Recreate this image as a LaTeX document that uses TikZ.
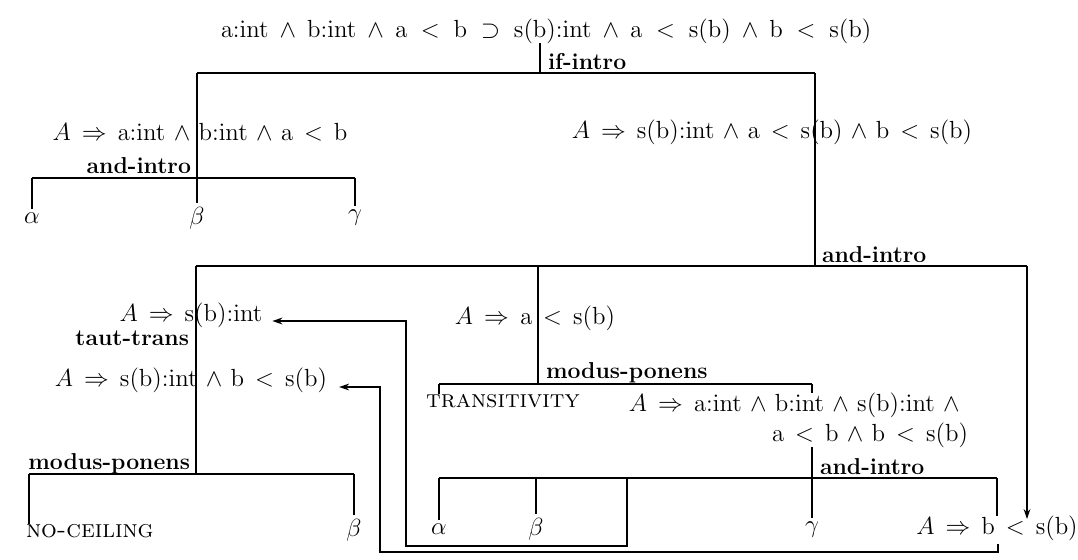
\documentclass[tikz,border=0pt]{standalone}
\usepackage{fix-cm}
\usetikzlibrary{arrows.meta}
\newcommand\va{\mathrm{a}}
\newcommand\vb{\mathrm{b}}
\newcommand\sofb{\mathrm{s(b)}}
\newcommand\tyy[2]{\mathrm{#1}{:}\mathrm{#2}}
\newcommand\fmx[1]{$\thickmuskip=8mu\medmuskip=6mu #1$}
\newcommand\fmw[1]{$\thickmuskip=10mu\medmuskip=8mu #1$}
\begin{document}
\begin{tikzpicture}[x=0.5pt,y=-0.5pt,
 every node/.style={inner sep=0pt,outer sep=0pt},
 txt/.style={font=\fontsize{12.4}{14.8}\selectfont},
 rl/.style={font=\fontsize{11.5}{13}\selectfont\bfseries},
 scx/.style={font=\fontsize{12.4}{14}\selectfont\scshape},
 leaf/.style={font=\fontsize{12.4}{14}\selectfont, inner sep=2pt},
 ln/.style={line width=0.6pt},
 barl/.style={line width=0.9pt},
 arr/.style={line width=0.7pt,-{Stealth[length=5pt,width=3.4pt]}},
]
\useasboundingbox (0,0) rectangle (1078,559);

% ---- nodes
\node[txt] (R) at (546,31) {\fmw{\tyy{a}{int}\wedge\tyy{b}{int}\wedge\va<\vb\supset\tyy{s(b)}{int}\wedge\va<\sofb\wedge\vb<\sofb}};
\node[txt] (N1) at (200,132) {\fmx{A\Rightarrow\tyy{a}{int}\wedge\tyy{b}{int}\wedge\va<\vb}};
\node[txt] (N2) at (772,132) {\fmx{A\Rightarrow\tyy{s(b)}{int}\wedge\va<\sofb\wedge\vb<\sofb}};
\node[leaf] (a1) at (32,218) {$\alpha$};
\node[leaf] (b1) at (197,218) {$\beta$};
\node[leaf] (g1) at (355,218) {$\gamma$};
\node[txt] (N3) at (191,315) {\fmx{A\Rightarrow\tyy{s(b)}{int}}};
\node[txt] (N4) at (191,380) {\fmx{A\Rightarrow\tyy{s(b)}{int}\wedge\vb<\sofb}};
\node[txt] (N5) at (535,318) {\fmx{A\Rightarrow\va<\sofb}};
\node[scx] (TR) at (503,401) {transitivity};
\node[txt, align=right, anchor=north east] (N6) at (968,393)
  {\fmx{A\Rightarrow\tyy{a}{int}\wedge\tyy{b}{int}\wedge\tyy{s(b)}{int}\wedge{}}\\
   \fmx{\va<\vb\wedge\vb<\sofb}};
\node[scx, anchor=west] (NC) at (26,531) {no-ceiling};
\node[leaf] (b2) at (354,530) {$\beta$};
\node[leaf] (a2) at (439,529) {$\alpha$};
\node[leaf] (b3) at (536,529) {$\beta$};
\node[leaf] (g3) at (812,530) {$\gamma$};
\node[txt] (N7) at (997,528) {\fmx{A\Rightarrow\vb<\sofb}};

% ---- rule labels
\node[rl, anchor=base west] (Lif) at (548,69) {if-intro};
\node[rl, anchor=base east] (La1) at (191,173) {and-intro};
\node[rl, anchor=base west] (La2) at (822,262) {and-intro};
\node[rl, anchor=base east] (Ltt) at (189,345) {taut-trans};
\node[rl, anchor=base west] (Lmp1) at (546,378) {modus-ponens};
\node[rl, anchor=base east] (Lmp2) at (190,469) {modus-ponens};
\node[rl, anchor=base west] (La3) at (820,474) {and-intro};

% ---- junction coordinates
\coordinate (J0) at (540,73);
\coordinate (J0l) at (197,73);
\coordinate (J0r) at (815,73);
\coordinate (J1) at (197,178);
\coordinate (J1l) at (32,178);
\coordinate (J1r) at (355,178);
\coordinate (J2) at (815,266);
\coordinate (J2l) at (196,266);
\coordinate (J2m) at (538,266);
\coordinate (J2r) at (1027,266);
\coordinate (J3) at (196,474);
\coordinate (J3l) at (29,474);
\coordinate (J3r) at (354,474);
\coordinate (J4) at (538,384);
\coordinate (J4l) at (439,384);
\coordinate (J4r) at (812,384);
\coordinate (J5) at (812,478);
\coordinate (J5l) at (439,478);
\coordinate (J5b) at (536,478);
\coordinate (J5c) at (627,478);
\coordinate (J5r) at (997,478);
\coordinate (K1) at (627,546);
\coordinate (K2) at (406,546);
\coordinate (K3) at (998,552);
\coordinate (K4) at (380,552);
\coordinate (tipR) at (1027,519);

% ---- connectors
\draw[ln] (R.south -| J0) -- (J0);
\draw[barl] (J0l) -- (J0r);
\draw[ln] (J0l) -- (J1);
\draw[ln] (J0r) -- (J2);
\draw[barl] (J1l) -- (J1r);
\draw[ln] (J1l) -- (J1l |- a1.north);
\draw[ln] (J1) -- (J1 |- b1.north);
\draw[ln] (J1r) -- (J1r |- g1.north);
\draw[barl] (J2l) -- (J2r);
\draw[ln] (J2l) -- (J3);
\draw[ln] (J2m) -- (J4);
\draw[arr] (J2r) -- (tipR);
\draw[barl] (J4l) -- (J4r);
\draw[ln] (J4l) -- (J4l |- TR.north);
\draw[ln] (J4r) -- (J4r |- N6.north);
\draw[ln] (N6.south -| J5) -- (J5);
\draw[barl] (J3l) -- (J3r);
\draw[ln] (J3l) -- (J3l |- NC.north);
\draw[ln] (J3r) -- (J3r |- b2.north);
\draw[barl] (J5l) -- (J5r);
\draw[ln] (J5l) -- (J5l |- a2.north);
\draw[ln] (J5b) -- (J5b |- b3.north);
\draw[ln] (J5) -- (J5 |- g3.north);
\draw[ln] (J5r) -- (J5r |- N7.north);
\draw[arr, shorten >=5pt] (J5c) -- (K1) -- (K2) |- ([yshift=-3pt]N3.east);
\draw[arr, shorten >=6pt] ([yshift=-2pt]N7.south -| K3) -- (K3) -- (K4) |- ([yshift=-3.5pt]N4.east);
\end{tikzpicture}
\end{document}
